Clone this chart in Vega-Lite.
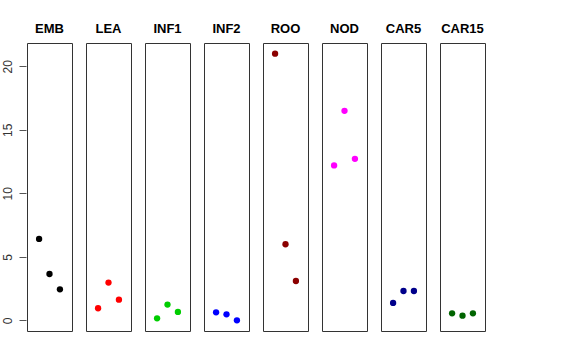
{
  "$schema": "https://vega.github.io/schema/vega-lite/v6.json",
  "padding": {"left": 1, "top": 23, "right": 5, "bottom": 5},
  "background": "white",
  "data": {"values": [
    {"tissue": "EMB", "rep": 1, "value": 6.41},
    {"tissue": "EMB", "rep": 2, "value": 3.65},
    {"tissue": "EMB", "rep": 3, "value": 2.44},
    {"tissue": "LEA", "rep": 1, "value": 0.95},
    {"tissue": "LEA", "rep": 2, "value": 2.97},
    {"tissue": "LEA", "rep": 3, "value": 1.63},
    {"tissue": "INF1", "rep": 1, "value": 0.16},
    {"tissue": "INF1", "rep": 2, "value": 1.24},
    {"tissue": "INF1", "rep": 3, "value": 0.66},
    {"tissue": "INF2", "rep": 1, "value": 0.63},
    {"tissue": "INF2", "rep": 2, "value": 0.47},
    {"tissue": "INF2", "rep": 3, "value": 0.0},
    {"tissue": "ROO", "rep": 1, "value": 21.0},
    {"tissue": "ROO", "rep": 2, "value": 5.99},
    {"tissue": "ROO", "rep": 3, "value": 3.1},
    {"tissue": "NOD", "rep": 1, "value": 12.2},
    {"tissue": "NOD", "rep": 2, "value": 16.5},
    {"tissue": "NOD", "rep": 3, "value": 12.72},
    {"tissue": "CAR5", "rep": 1, "value": 1.37},
    {"tissue": "CAR5", "rep": 2, "value": 2.31},
    {"tissue": "CAR5", "rep": 3, "value": 2.31},
    {"tissue": "CAR15", "rep": 1, "value": 0.55},
    {"tissue": "CAR15", "rep": 2, "value": 0.37},
    {"tissue": "CAR15", "rep": 3, "value": 0.55}
  ]},
  "facet": {
    "column": {
      "field": "tissue", "type": "nominal",
      "sort": ["EMB", "LEA", "INF1", "INF2", "ROO", "NOD", "CAR5", "CAR15"],
      "header": {"title": null, "labelFont": "Liberation Sans", "labelFontWeight": "bold", "labelFontSize": 13, "labelColor": "black", "labelPadding": 6}
    }
  },
  "spacing": 12,
  "spec": {
    "width": 45,
    "height": 288,
    "mark": {"type": "circle", "size": 40, "opacity": 1},
    "encoding": {
      "x": {"field": "rep", "type": "quantitative", "scale": {"domain": [-0.16, 4.16], "nice": false, "zero": false}, "axis": null},
      "y": {"field": "value", "type": "quantitative", "scale": {"domain": [-0.84, 21.84], "nice": false, "zero": false},
        "axis": {"title": null, "values": [0, 5, 10, 15, 20], "grid": false, "domain": false, "tickSize": 7, "tickColor": "#555", "labelAngle": 270, "labelAlign": "center", "labelBaseline": "bottom", "labelPadding": 5, "labelFont": "Liberation Sans", "labelFontSize": 12, "labelColor": "#333"}},
      "color": {"field": "tissue", "type": "nominal", "legend": null,
        "scale": {"domain": ["EMB", "LEA", "INF1", "INF2", "ROO", "NOD", "CAR5", "CAR15"],
                  "range": ["#000000", "#FF0000", "#00CD00", "#0000FF", "#8B0000", "#FF00FF", "#00008B", "#006400"]}}
    }
  },
  "config": {"view": {"stroke": "#333", "strokeWidth": 1}}
}
